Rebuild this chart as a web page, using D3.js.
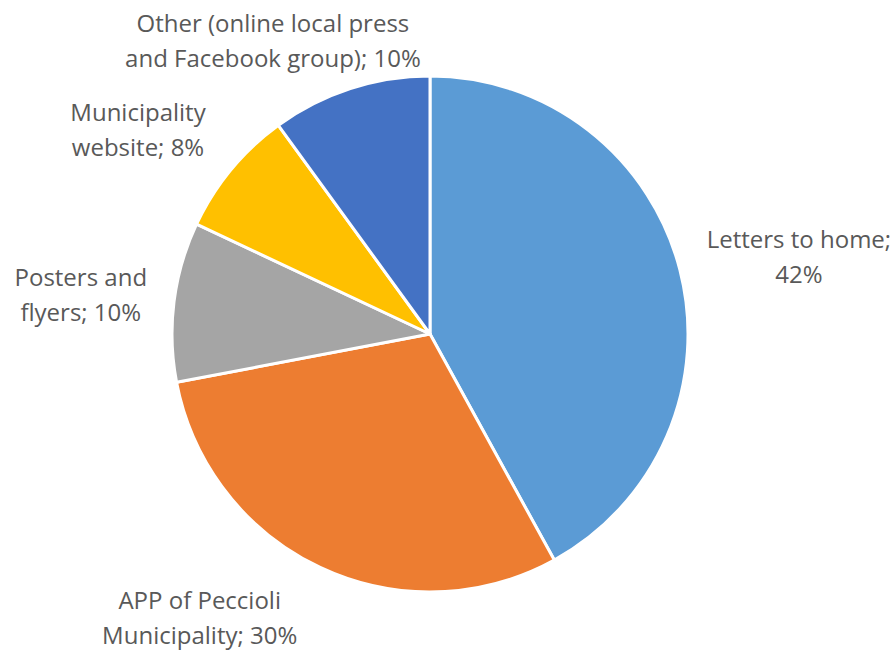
<!DOCTYPE html>
<html>
<head>
<meta charset="utf-8">
<script src="https://cdn.jsdelivr.net/npm/d3@7"></script>
<style>
  body { margin: 0; background: #fff; }
  text { font-family: "Open Sans", sans-serif; fill: #595959; }
</style>
</head>
<body>
<svg id="chart" width="895" height="650"></svg>
<script>
// slices, clockwise from 12 o'clock
const categories = ["Letters to home", "APP of Peccioli Municipality", "Posters and flyers", "Municipality website", "Other (online local press and Facebook group)"];
const values = [42, 30, 10, 8, 10];
const colors = ["#5B9BD5", "#ED7D31", "#A5A5A5", "#FFC000", "#4472C4"];
// label lines as wrapped in the original
const labelLines = [
  ["Letters to home;", "42%"],
  ["APP of Peccioli", "Municipality; 30%"],
  ["Posters and", "flyers; 10%"],
  ["Municipality", "website; 8%"],
  ["Other (online local press", "and Facebook group); 10%"]
];

const svg = d3.select("#chart");
const cx = 430, cy = 334, radius = 258;

const data = categories.map((c, i) => ({name: c, value: values[i], lines: labelLines[i], color: colors[i]}));

const pie = d3.pie().sort(null).value(d => d.value);
const arc = d3.arc().innerRadius(0).outerRadius(radius);

const arcs = pie(data);

const g = svg.append("g").attr("transform", `translate(${cx},${cy})`);

g.selectAll("path")
  .data(arcs)
  .join("path")
  .attr("d", arc)
  .attr("fill", d => d.data.color)
  .attr("stroke", "#fff")
  .attr("stroke-width", 3)
  .attr("stroke-linejoin", "round");

// outside labels, placed along the slice mid-angle then nudged like excel does
const labelArc = d3.arc().innerRadius(radius + 95).outerRadius(radius + 95);
const offsets = [[27, 12], [-80, -34], [1, 7], [-20, 23], [-48, 44]];

const lbl = g.selectAll("g.lbl")
  .data(arcs)
  .join("g")
  .attr("class", "lbl")
  .attr("transform", (d, i) => {
    const [x, y] = labelArc.centroid(d);
    return `translate(${x + offsets[i][0]},${y + offsets[i][1]})`;
  });

lbl.append("text")
  .attr("text-anchor", "middle")
  .attr("font-size", 24)
  .selectAll("tspan")
  .data(d => d.data.lines)
  .join("tspan")
  .attr("x", 0)
  .attr("y", (d, i, n) => (i - (n.length - 1) / 2) * 35 + 7)
  .text(d => d);
</script>
</body>
</html>
